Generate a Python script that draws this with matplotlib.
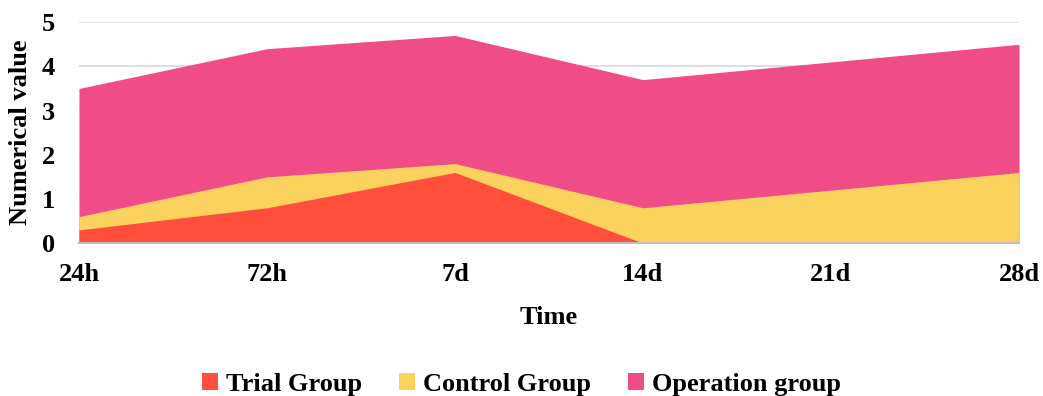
import numpy as np
import matplotlib.pyplot as plt

plt.rcParams['font.family'] = ['Liberation Serif', 'DejaVu Serif']
plt.rcParams['font.weight'] = 'bold'

# time points and group values
times = ['24h', '72h', '7d', '14d', '21d', '28d']
trial = [0.3, 0.8, 1.6, 0.0, 0.0, 0.0]
control = [0.6, 1.5, 1.8, 0.8, 1.2, 1.6]
operation = [3.5, 4.4, 4.7, 3.7, 4.1, 4.5]

x = np.arange(len(times))

fig = plt.figure(figsize=(10.43, 3.96), dpi=100)
ax = fig.add_axes([0.0757, 0.386, 0.9013, 0.558])

# overlapping (unstacked) areas, back to front
ax.fill_between(x, operation, color='#F04C88', lw=0, label='Operation group', zorder=2)
ax.fill_between(x, control, color='#FCD25E', lw=0, label='Control Group', zorder=3)
ax.fill_between(x, trial, color='#FF4E3A', lw=0, label='Trial Group', zorder=4)

ax.set_xlim(0, len(times) - 1)
ax.set_ylim(0, 5)
ax.set_yticks(range(6))
ax.set_xticks(x)
ax.set_xticklabels(times)
ax.tick_params(length=0, labelsize=19)
ax.tick_params(axis='x', pad=14)
ax.tick_params(axis='y', pad=17)
for lab in ax.get_xticklabels() + ax.get_yticklabels():
    lab.set_fontweight('bold')

ax.yaxis.grid(True, color='#D9D9D9', lw=1.2, zorder=1)
ax.set_axisbelow(True)
for s in ['top', 'left', 'right']:
    ax.spines[s].set_visible(False)
ax.spines['bottom'].set_color('#BFBFBF')
ax.spines['bottom'].set_linewidth(1.5)
ax.spines['bottom'].set_zorder(5)

ax.set_xlabel('Time', fontsize=19, fontweight='bold', labelpad=15)
ax.set_ylabel('Numerical value', fontsize=19, fontweight='bold', labelpad=7)

handles, labels = ax.get_legend_handles_labels()
fig.legend(handles[::-1], labels[::-1], loc='center', bbox_to_anchor=(0.5, 0.03),
           ncol=3, frameon=False, prop={'size': 19, 'weight': 'bold'},
           handlelength=0.6, handleheight=0.6, handletextpad=0.3, columnspacing=1.4)

fig.savefig('out.png', dpi=100)
